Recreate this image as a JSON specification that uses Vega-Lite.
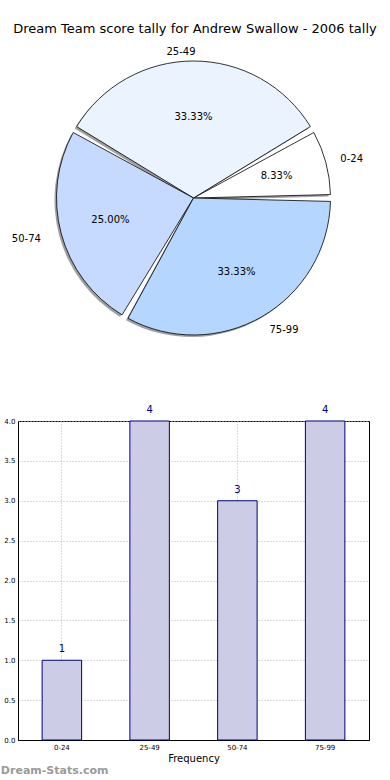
{
  "$schema": "https://vega.github.io/schema/vega-lite/v6.json",
  "background": "white",
  "padding": {"top": 23, "left": 0, "right": 0, "bottom": 0},
  "title": {"text": "Dream Team score tally for Andrew Swallow - 2006 tally", "font": "DejaVu Sans", "fontSize": 13, "fontWeight": "normal", "color": "black", "anchor": "middle", "offset": -1, "dx": 10},
  "config": {
    "font": "DejaVu Sans",
    "view": {"stroke": null},
    "concat": {"spacing": 73}
  },
  "bounds": "flush",
  "datasets": {
    "tally": [
      {"range": "0-24", "count": 1, "pct": "8.33%"},
      {"range": "25-49", "count": 4, "pct": "33.33%"},
      {"range": "50-74", "count": 3, "pct": "25.00%"},
      {"range": "75-99", "count": 4, "pct": "33.33%"}
    ]
  },
  "vconcat": [
    {
      "width": 351,
      "height": 300,
      "data": {"name": "tally"},
      "encoding": {
        "theta": {"field": "count", "type": "quantitative", "stack": true, "scale": {"range": [1.5708, -4.7124]}},
        "order": {"field": "range", "type": "nominal"}
      },
      "layer": [
        {
          "mark": {"type": "arc", "outerRadius": 137, "padAngle": 0.05, "fill": "#777777", "opacity": 0.7, "xOffset": -2, "yOffset": 2}
        },
        {
          "mark": {"type": "arc", "outerRadius": 137, "padAngle": 0.05, "stroke": "black", "strokeWidth": 0.8},
          "encoding": {
            "color": {"field": "range", "type": "nominal", "legend": null,
              "scale": {"domain": ["0-24", "25-49", "50-74", "75-99"], "range": ["#ffffff", "#ebf3ff", "#c6d9ff", "#b5d6ff"]}}
          }
        },
        {
          "mark": {"type": "text", "radius": 86, "fontSize": 10, "color": "black"},
          "encoding": {"text": {"condition": {"test": "datum.range !== '25-49'", "field": "pct"}, "value": ""}}
        },
        {
          "mark": {"type": "text", "radius": 81, "fontSize": 10, "color": "black"},
          "encoding": {"text": {"condition": {"test": "datum.range === '25-49'", "field": "pct"}, "value": ""}}
        },
        {
          "mark": {"type": "text", "radius": 152, "fontSize": 10, "color": "black", "align": "left"},
          "encoding": {"text": {"condition": {"test": "datum.range === '0-24' || datum.range === '75-99'", "field": "range"}, "value": ""}}
        },
        {
          "mark": {"type": "text", "radius": 146, "fontSize": 10, "color": "black", "align": "right", "dx": 2},
          "encoding": {"text": {"condition": {"test": "datum.range === '25-49'", "field": "range"}, "value": ""}}
        },
        {
          "mark": {"type": "text", "radius": 158, "fontSize": 10, "color": "black", "align": "right"},
          "encoding": {"text": {"condition": {"test": "datum.range === '50-74'", "field": "range"}, "value": ""}}
        }
      ]
    },
    {
      "width": 351,
      "height": 319,
      "data": {"name": "tally"},
      "title": {"text": "Dream-Stats.com", "orient": "bottom", "anchor": "start", "frame": "bounds", "fontSize": 11, "fontWeight": "bold", "color": "#9a9a9a", "offset": 2, "dx": -3},
      "view": {"stroke": "black", "strokeWidth": 1},
      "encoding": {
        "x": {"field": "range", "type": "nominal", "sort": null,
          "scale": {"paddingInner": 0, "paddingOuter": 0},
          "axis": {"title": "Frequency", "titleFontSize": 10, "titleFontWeight": "normal", "titlePadding": 3, "labelFontSize": 7, "labelAngle": 0, "labelPadding": 3, "ticks": false, "domainColor": "black", "grid": true, "gridDash": [1, 2], "gridColor": "#b4b4b4", "labelColor": "black", "titleColor": "black"}},
        "y": {"field": "count", "type": "quantitative",
          "scale": {"domain": [0, 4], "nice": false},
          "axis": {"title": null, "values": [0, 0.5, 1, 1.5, 2, 2.5, 3, 3.5, 4], "format": ".1f", "labelFontSize": 7, "labelPadding": 3, "ticks": false, "domainColor": "black", "gridDash": [1, 2], "gridColor": "#b4b4b4", "labelColor": "black"}}
      },
      "layer": [
        {"mark": {"type": "bar", "width": {"band": 0.45}, "fill": "#ccccE6", "stroke": "#000080", "strokeWidth": 1}},
        {"mark": {"type": "text", "dy": -6, "fontSize": 10, "color": "#000080", "baseline": "bottom"},
          "encoding": {"text": {"field": "count", "type": "quantitative"}}}
      ]
    }
  ]
}
